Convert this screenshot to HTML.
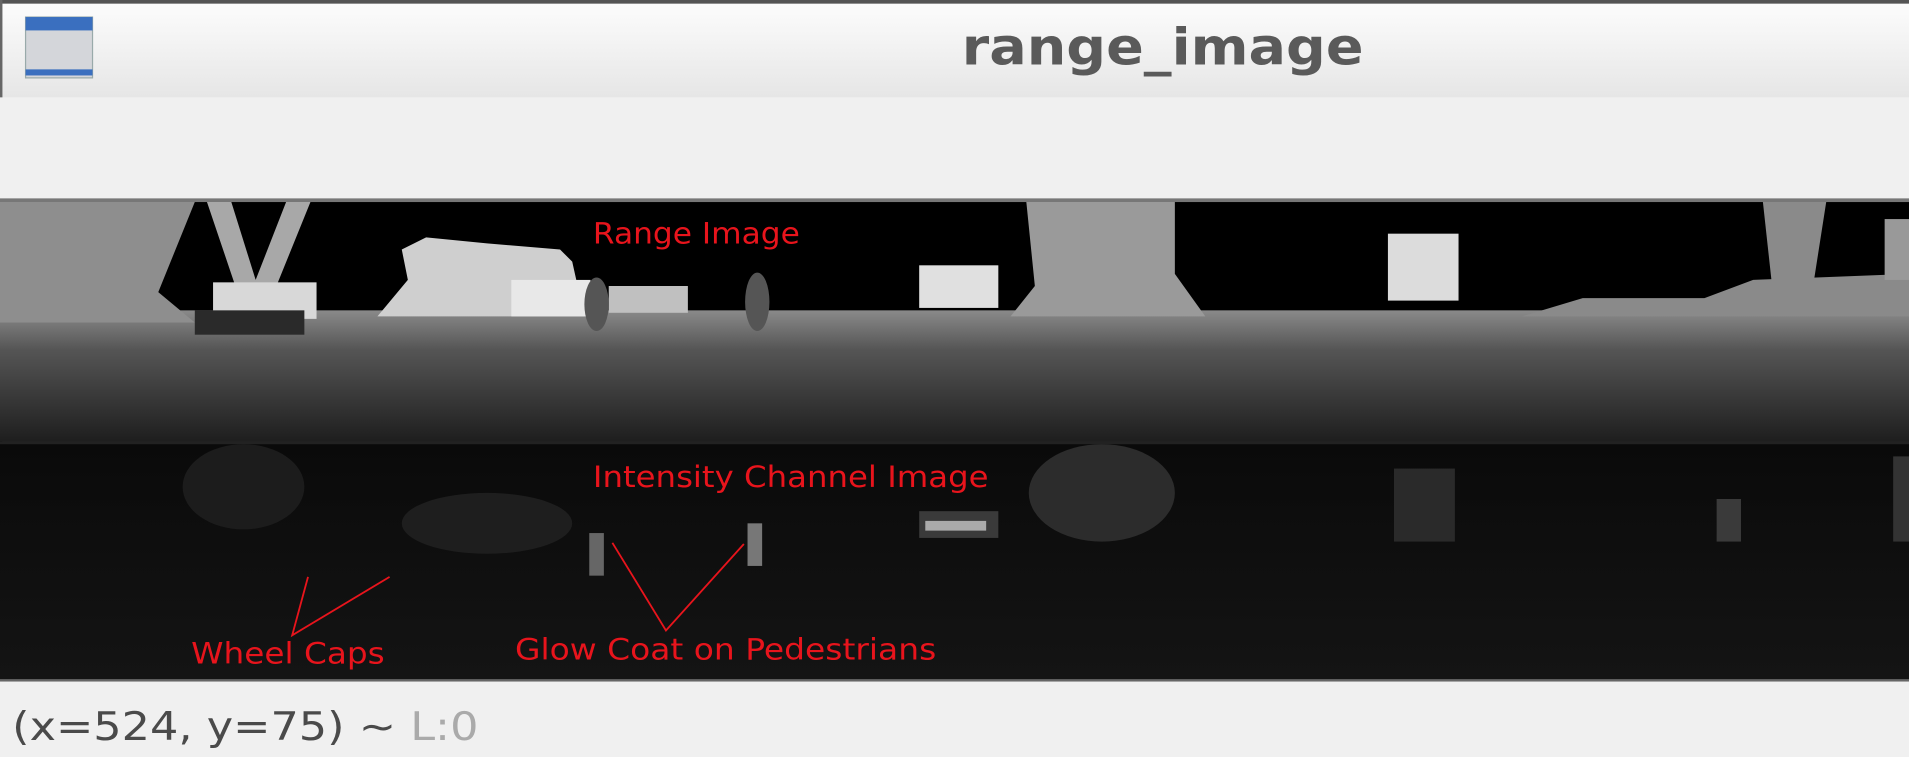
<!DOCTYPE html>
<html><head><meta charset="utf-8"><style>
html,body{margin:0;padding:0;width:1909px;height:757px;overflow:hidden;background:#f0f0f0}
svg{display:block}
</style></head><body>
<svg width="1909" height="757" viewBox="0 0 1568 622" preserveAspectRatio="none">
<defs>
<linearGradient id="tb" x1="0" y1="0" x2="0" y2="1"><stop offset="0" stop-color="#fdfdfd"/><stop offset="1" stop-color="#e6e6e6"/></linearGradient>
<linearGradient id="ground" x1="0" y1="0" x2="0" y2="1"><stop offset="0" stop-color="#8a8a8a"/><stop offset="0.3" stop-color="#555"/><stop offset="1" stop-color="#1e1e1e"/></linearGradient>
<linearGradient id="ig" x1="0" y1="0" x2="0" y2="1"><stop offset="0" stop-color="#0a0a0a"/><stop offset="1" stop-color="#141414"/></linearGradient>
</defs>
<rect x="0" y="0" width="1568" height="80" fill="url(#tb)"/>
<rect x="0" y="0" width="1568" height="3" fill="#555"/>
<rect x="0" y="0" width="2" height="622" fill="#666"/>
<g>
<rect x="21" y="14" width="55" height="50" fill="#d4d6da" stroke="#9aa" stroke-width="1"/>
<rect x="21" y="14" width="55" height="11" fill="#3a6fbf"/>
<rect x="21" y="57" width="55" height="5" fill="#3a6fbf"/>
</g>
<text x="790" y="53" textLength="330" lengthAdjust="spacingAndGlyphs" font-family="DejaVu Sans, Liberation Sans, sans-serif" font-weight="bold" font-size="42" fill="#5a5a5a">range_image</text>
<rect x="0" y="80" width="1568" height="85" fill="#f0f0f0"/>
<rect x="0" y="163" width="1568" height="3" fill="#777"/>
<g>
<rect x="0" y="166" width="1568" height="197" fill="#000"/>
<rect x="0" y="255" width="1568" height="108" fill="url(#ground)"/>
<polygon points="0,166 160,166 130,240 160,265 0,265" fill="#8e8e8e"/>
<polygon points="170,166 190,166 210,230 235,166 255,166 225,240 195,240" fill="#a8a8a8"/>
<rect x="175" y="232" width="85" height="30" fill="#d8d8d8"/>
<polygon points="330,205 350,195 400,200 460,205 470,215 480,260 310,260 335,230" fill="#cfcfcf"/>
<rect x="420" y="230" width="65" height="30" fill="#e8e8e8"/>
<rect x="500" y="235" width="65" height="22" fill="#c0c0c0"/>
<rect x="755" y="218" width="65" height="35" fill="#e0e0e0"/>
<polygon points="843,166 965,166 965,225 990,260 830,260 850,235" fill="#9a9a9a"/>
<rect x="1140" y="192" width="58" height="55" fill="#dcdcdc"/>
<polygon points="1250,260 1300,245 1400,245 1440,230 1568,225 1568,260" fill="#8a8a8a"/>
<polygon points="1448,166 1500,166 1490,230 1455,230" fill="#8a8a8a"/>
<rect x="1548" y="180" width="20" height="50" fill="#999"/>
<rect x="160" y="255" width="90" height="20" fill="#2a2a2a"/>
<ellipse cx="490" cy="250" rx="10" ry="22" fill="#555"/>
<ellipse cx="622" cy="248" rx="10" ry="24" fill="#555"/>
</g>
<g>
<rect x="0" y="363" width="1568" height="196" fill="url(#ig)"/>
<rect x="0" y="363" width="1568" height="2" fill="#222"/>
<ellipse cx="905" cy="405" rx="60" ry="40" fill="#2c2c2c"/>
<ellipse cx="400" cy="430" rx="70" ry="25" fill="#1e1e1e"/>
<ellipse cx="200" cy="400" rx="50" ry="35" fill="#1c1c1c"/>
<rect x="1145" y="385" width="50" height="60" fill="#2a2a2a"/>
<rect x="755" y="420" width="65" height="22" fill="#3a3a3a"/>
<rect x="760" y="428" width="50" height="8" fill="#aaa"/>
<rect x="484" y="438" width="12" height="35" fill="#666"/>
<rect x="614" y="430" width="12" height="35" fill="#777"/>
<rect x="1410" y="410" width="20" height="35" fill="#3a3a3a"/>
<rect x="1555" y="375" width="13" height="70" fill="#333"/>
</g>
<g font-family="DejaVu Sans, Liberation Sans, sans-serif" font-size="24" fill="#e8141c" lengthAdjust="spacingAndGlyphs">
<text x="487" y="200" textLength="170" lengthAdjust="spacingAndGlyphs">Range Image</text>
<text x="487" y="400" textLength="325" lengthAdjust="spacingAndGlyphs">Intensity Channel Image</text>
<text x="157" y="545" textLength="159" lengthAdjust="spacingAndGlyphs">Wheel Caps</text>
<text x="423" y="542" textLength="346" lengthAdjust="spacingAndGlyphs">Glow Coat on Pedestrians</text>
</g>
<g stroke="#e8141c" stroke-width="1.5" fill="none">
<polyline points="253,474 240,522 320,474"/>
<polyline points="503,446 547,518 611,447"/>
</g>
<rect x="0" y="559" width="1568" height="63" fill="#f0f0f0"/>
<rect x="0" y="558" width="1568" height="2" fill="#666"/>
<text x="10" y="608" textLength="383" lengthAdjust="spacingAndGlyphs" font-family="DejaVu Sans, Liberation Sans, sans-serif" font-size="32" fill="#4a4a4a">(x=524, y=75) ~ <tspan fill="#aaaaaa">L:0</tspan></text>
</svg>
</body></html>
